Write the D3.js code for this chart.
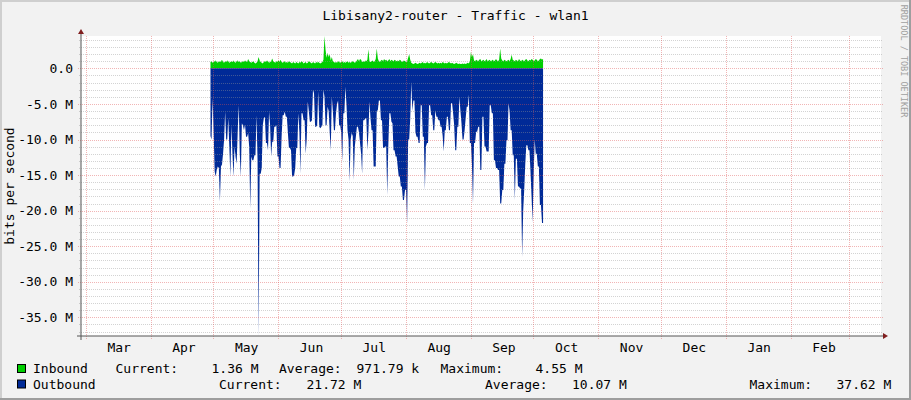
<!DOCTYPE html>
<html><head><meta charset="utf-8">
<script src="https://cdn.jsdelivr.net/npm/d3@7"></script>
<style>
body{margin:0;background:#f2f2f2}
svg{display:block}
text{font-family:"DejaVu Sans Mono",monospace;fill:#000}
</style>
</head><body>
<svg id="chart" width="911" height="400"></svg>
<script>
// ---------- data ----------
const chartTitle = "Libisany2-router - Traffic - wlan1";
const yAxisTitle = "bits per second";
const watermark = "RRDTOOL / TOBI OETIKER";
const seriesNames = ["Inbound", "Outbound"];
const seriesColors = ["#00CF00", "#002A97"];
const dataStart = new Date(2013, 3, 29, 4, 30);   // first sample
const stepHours = 12;                              // sample spacing
// Mbit/s, one value per sample
const inbound = [
0.9,1.0,0.8,0.9,1.0,1.1,0.9,0.8,1.0,0.9,
1.0,1.2,0.9,0.8,1.0,0.9,1.1,1.0,0.8,0.9,
1.0,0.9,1.1,0.9,0.8,1.0,1.1,0.9,1.0,0.8,
0.9,1.0,0.9,1.1,1.0,0.9,1.3,1.0,0.9,0.8,
0.9,1.0,0.8,0.7,0.8,1.0,1.6,1.1,0.9,0.8,
0.7,0.9,1.0,0.9,1.1,1.0,0.8,0.9,1.0,1.4,
1.0,0.9,0.8,1.0,0.9,1.1,0.9,1.2,0.9,0.8,
0.9,1.0,0.8,0.9,0.8,1.0,0.9,0.8,0.7,0.9,
0.8,0.7,0.9,0.8,0.7,0.9,0.8,1.0,0.9,0.7,
0.8,0.9,0.7,0.8,1.0,0.9,0.8,0.7,0.9,0.8,
0.7,0.9,0.8,0.9,0.8,0.7,0.8,0.9,1.2,4.55,
2.6,1.5,2.2,1.6,2.0,1.1,1.6,1.0,0.9,0.8,
0.9,0.8,1.0,0.9,0.8,0.9,1.0,0.8,0.9,0.8,
0.9,1.0,0.8,0.9,0.8,0.9,1.0,0.9,0.8,0.9,
1.1,1.3,1.0,1.3,1.2,0.9,1.0,0.9,1.1,1.0,
1.2,2.7,1.0,0.9,1.0,1.1,0.9,1.0,1.3,2.8,
1.4,1.0,0.9,1.1,1.2,1.0,1.3,1.1,1.2,1.0,
1.1,1.3,1.0,1.2,1.1,1.0,1.2,1.1,1.0,1.1,
1.0,1.2,1.1,0.9,1.0,1.1,1.0,0.9,1.0,1.5,
2.0,1.2,0.8,0.7,0.6,0.7,0.8,0.7,0.6,0.7,
0.8,0.7,0.8,0.9,0.7,0.8,0.7,0.9,0.8,0.7,
0.8,0.9,0.8,0.7,0.8,0.9,0.8,0.7,0.8,0.7,
0.8,0.7,0.9,0.8,0.7,0.8,0.7,0.8,0.9,0.8,
0.7,0.8,0.7,0.6,0.7,0.8,0.7,0.6,0.7,0.6,
0.6,0.7,0.6,0.7,0.6,0.7,0.8,0.7,1.0,2.3,
1.6,2.0,1.1,1.0,1.2,1.1,1.0,1.2,1.3,1.0,
1.1,1.2,1.0,1.1,1.3,1.0,1.1,1.2,1.0,1.1,
1.2,1.0,1.1,1.3,1.1,1.0,1.2,2.8,1.4,1.1,
1.0,1.2,1.1,1.0,1.1,1.2,1.0,1.3,1.9,1.2,
1.1,1.0,1.2,1.1,1.0,1.3,1.1,1.0,1.2,1.1,
1.0,1.2,1.3,1.1,1.0,1.2,1.1,1.3,1.2,1.0,
1.1,1.3,1.2,1.0,1.1,1.3,1.4,1.2,1.36
];
const outbound = [
9.5,10,4.2,9,14.5,15.2,14.2,13.8,14,18.7,
13.8,13.5,12,10,6.1,10,10,7,11,15.2,
8,12,15.2,11,12.5,13.4,9,5.2,12,15.2,
7.7,8,8.7,7.9,9.6,9.6,9.1,11,19.7,12.4,
12.9,12.9,12.2,12.2,6.6,13,37.62,14.8,14.8,14,
8,7,6.8,10.5,10.5,11.5,6.1,8,12.4,10.3,
10.3,8.2,8.2,8,12.4,12.4,14,14,9.6,6.6,
6.6,6.1,6.8,6.8,9.1,11.2,11.2,11.5,15.2,15.2,
15,14,11.2,11.2,6.3,9,14.8,6.3,6.3,7.3,
7.3,12,10,4.7,6,7.5,7.5,7.3,3.0,3.5,
8.2,8.2,8,3.2,8.2,8.4,8.2,8,3.0,4,
8,8,5.4,6,9,11.5,4,6,8.7,8.7,
6.3,5,4.5,8,8,9,13.1,6.3,6.3,2.6,
5,8.7,10,15.9,10,9.1,9.5,15.7,11,9.6,
8.2,8.2,9,10.5,12,14.8,7.3,7.3,7,7,
11.5,9,4.7,7,8.7,8.7,13.8,13.8,13.8,6,
5.9,4.5,4.5,7.3,7.3,11.2,11.2,11,11,17.8,
11,6.3,6.3,7.5,7.7,11.5,11.5,12.4,12.4,13.8,
15.2,15.2,16.6,16.6,18.5,18.5,17.1,17.1,21.8,10,
10,7,1.9,6,4.5,4.5,9,9.6,9.6,10.5,
10.5,5.2,5.2,9.6,9.6,17.1,11,10.5,10.5,5.2,
5.2,6.6,6.6,8.7,8.7,5.9,6.8,6.8,7.3,7.3,
8.2,8.2,9.5,11.7,8.7,8.7,6.8,6.8,8.7,8.7,
4.9,4.9,6.3,8,11.5,11.5,8.2,8.2,4,6,
7.7,10,10,8.7,7,5.4,5.4,3.7,10.5,10.5,
13.4,19,10.5,10.5,8.9,8.9,8.2,8.2,14.3,14.3,
6.8,6.8,11,11,11.7,11.7,11.7,5.2,5.2,6.3,
6.3,12.9,12.9,14,14,14.3,14.3,19,19,17.1,
17.1,13.4,13.4,10.1,10.1,4.9,6,8.7,8.7,12.2,
12.2,18.5,12.7,12.7,16.6,16.6,16.9,16.9,26.5,20,
17,13.4,10.8,10.8,11.5,11.5,14.5,18,21.6,15,
10,12,12,13.8,13.8,19.2,19.2,21.72,21.72
];
const yDomain = [-37.62, 4.55];                       // Mbit/s
const yMajorTicks = [0, -5, -10, -15, -20, -25, -30, -35];
const monthStart = new Date(2013, 2, 1);
const monthEnd = new Date(2014, 2, 2);
const statLabels = ["Current:", "Average:", "Maximum:"];
const inboundStats = ["1.36 M", "971.79 k", "4.55 M"];
const outboundStats = ["21.72 M", "10.07 M", "37.62 M"];

// ---------- layout ----------
const W = 911, H = 400;
const plot = {left: 81, right: 881, top: 36, bottom: 336};
const svg = d3.select("#chart");

const x = d3.scaleTime()
  .domain([new Date(2013, 2, 1), new Date(2013, 9, 1)])
  .range([86.7, 534.3]);
const y = d3.scaleLinear().domain(yDomain).range([plot.bottom, plot.top]);

const samples = inbound.map((v, i) => ({
  t: d3.timeHour.offset(dataStart, i * stepHours),
  inb: v,
  out: outbound[i]
}));

// background + 3D frame
svg.append("rect").attr("width", W).attr("height", H).attr("fill", "#f2f2f2");
svg.append("rect").attr("x", 0).attr("y", 0).attr("width", W).attr("height", 2).attr("fill", "#cfcfcf");
svg.append("rect").attr("x", 0).attr("y", 0).attr("width", 2).attr("height", H).attr("fill", "#cfcfcf");
svg.append("rect").attr("x", W - 2).attr("y", 0).attr("width", 2).attr("height", H).attr("fill", "#9e9e9e");
svg.append("rect").attr("x", 0).attr("y", H - 2).attr("width", W).attr("height", 2).attr("fill", "#9e9e9e");

// canvas
svg.append("rect").attr("x", plot.left).attr("y", plot.top)
  .attr("width", plot.right - plot.left).attr("height", plot.bottom - plot.top)
  .attr("fill", "#ffffff");

// areas
const areaIn = d3.area().x(d => x(d.t)).y0(y(0)).y1(d => y(d.inb)).curve(d3.curveLinear);
const areaOut = d3.area().x(d => x(d.t)).y0(y(0)).y1(d => y(-d.out)).curve(d3.curveLinear);
svg.append("path").datum(samples).attr("d", areaIn).attr("fill", seriesColors[0]);
svg.append("path").datum(samples).attr("d", areaOut).attr("fill", seriesColors[1]);

// grid (drawn over data, like rrdtool)
const grid = svg.append("g").attr("shape-rendering", "crispEdges");
const minorTicks = d3.range(Math.ceil(yDomain[0]), Math.floor(yDomain[1]) + 1).filter(v => v % 5 !== 0);
grid.selectAll(".hmin").data(minorTicks).join("line")
  .attr("x1", plot.left - 2).attr("x2", plot.right + 2)
  .attr("y1", d => Math.round(y(d)) + 0.5).attr("y2", d => Math.round(y(d)) + 0.5)
  .attr("stroke", "rgba(150,150,150,0.42)").attr("stroke-dasharray", "1,1");
grid.selectAll(".hmaj").data(yMajorTicks).join("line")
  .attr("x1", plot.left - 3).attr("x2", plot.right + 2)
  .attr("y1", d => Math.round(y(d)) + 0.5).attr("y2", d => Math.round(y(d)) + 0.5)
  .attr("stroke", "rgba(222,79,79,0.42)").attr("stroke-dasharray", "1,1");
const months = d3.timeMonth.range(monthStart, monthEnd);
grid.selectAll(".vmaj").data(months).join("line")
  .attr("x1", d => Math.round(x(d)) - 0.5).attr("x2", d => Math.round(x(d)) - 0.5)
  .attr("y1", plot.top).attr("y2", plot.bottom + 4)
  .attr("stroke", "rgba(222,79,79,0.42)").attr("stroke-dasharray", "1,1");

// axes
svg.append("line").attr("x1", plot.left - 4).attr("x2", plot.right + 3)
  .attr("y1", plot.bottom).attr("y2", plot.bottom).attr("stroke", "#555").attr("stroke-width", 1);
svg.append("line").attr("x1", plot.left).attr("x2", plot.left)
  .attr("y1", plot.top - 3).attr("y2", plot.bottom + 4).attr("stroke", "#555").attr("stroke-width", 1);
svg.append("path").attr("d", `M${plot.right + 2},${plot.bottom - 3}L${plot.right + 7},${plot.bottom}L${plot.right + 2},${plot.bottom + 3}Z`)
  .attr("fill", "#801f1f");
svg.append("path").attr("d", `M${plot.left - 3},${plot.top - 2}L${plot.left},${plot.top - 7}L${plot.left + 3},${plot.top - 2}Z`)
  .attr("fill", "#801f1f");

// y tick labels (ASCII hyphen-minus, as rrdtool prints)
const fmtY = v => v === 0 ? "0.0" : v.toFixed(1) + " M";
svg.selectAll(".ylab").data(yMajorTicks).join("text")
  .attr("x", 73).attr("y", d => y(d)).attr("dy", "0.36em")
  .attr("text-anchor", "end").attr("font-size", 13)
  .text(fmtY);

// month labels
svg.selectAll(".xlab").data(months.filter(m => m < new Date(2014, 2, 1))).join("text")
  .attr("x", d => x(d3.timeHour.offset(d, 372))).attr("y", 352)
  .attr("text-anchor", "middle").attr("font-size", 13)
  .text(d3.timeFormat("%b"));

// titles
svg.append("text").attr("x", W / 2).attr("y", 19.5).attr("text-anchor", "middle")
  .attr("font-size", 13).text(chartTitle);
svg.append("text").attr("transform", `translate(13.5,${(plot.top + plot.bottom) / 2}) rotate(-90)`)
  .attr("text-anchor", "middle").attr("font-size", 13).text(yAxisTitle);
svg.append("text").attr("transform", "translate(900.5,61) rotate(90)")
  .attr("text-anchor", "middle").attr("font-size", 8.5).style("fill", "#a0a0a0")
  .text(watermark);

// legend
const legendRows = [
  {name: seriesNames[0], color: seriesColors[0], y: 373, stats: inboundStats,
   lx: [115.5, 279, 440.5], vx: [211.5, 356.5, 535.5]},
  {name: seriesNames[1], color: seriesColors[1], y: 388.5, stats: outboundStats,
   lx: [219, 485, 749.5], vx: [306.5, 572, 836.5]}
];
legendRows.forEach(r => {
  svg.append("rect").attr("x", 17.5).attr("y", r.y - 8.5).attr("width", 8).attr("height", 8)
    .attr("fill", r.color).attr("stroke", "#000").attr("stroke-width", 1);
  svg.append("text").attr("x", 33).attr("y", r.y).attr("font-size", 13).text(r.name);
  statLabels.forEach((s, i) => {
    svg.append("text").attr("x", r.lx[i]).attr("y", r.y).attr("font-size", 13).text(s);
    svg.append("text").attr("x", r.vx[i]).attr("y", r.y).attr("font-size", 13).text(r.stats[i]);
  });
});
</script>
</body></html>
